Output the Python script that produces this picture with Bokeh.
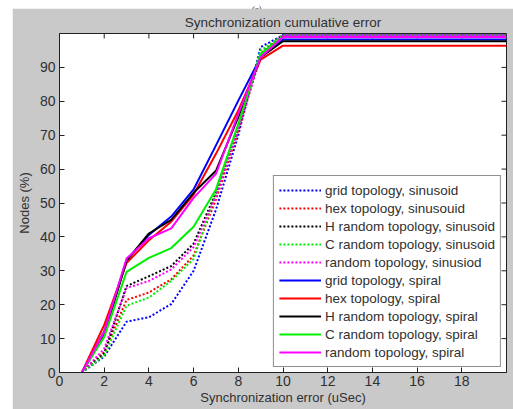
from bokeh.plotting import figure
from bokeh.models import Range1d, FixedTicker, LinearAxis, Legend, LegendItem, Div
from bokeh.layouts import column
from bokeh.embed import file_html
from bokeh.resources import INLINE

# Synchronization error (uSec) sample points
error_us = [1, 2, 3, 4, 5, 6, 7, 8, 9, 10, 20]

# Cumulative share of nodes (%) per topology / clock model
grid_sinusoid = [0, 4.7, 15.0, 16.3, 20.2, 30.0, 48.0, 70.0, 96.0, 99.5, 99.5]
hex_sinusoid = [0, 6.0, 21.4, 23.6, 27.5, 34.5, 51.0, 71.0, 94.0, 99.5, 99.5]
hrand_sinusoid = [0, 5.6, 25.5, 28.4, 31.4, 38.0, 53.0, 72.0, 94.0, 99.5, 99.5]
crand_sinusoid = [0, 5.0, 19.7, 22.1, 27.0, 33.5, 53.0, 73.0, 95.0, 99.5, 99.5]
rand_sinusoid = [0, 7.0, 24.9, 27.0, 30.4, 37.0, 52.0, 72.0, 93.0, 99.5, 99.5]
grid_spiral = [0, 12.0, 33.0, 40.6, 46.0, 54.0, 67.0, 80.2, 93.0, 98.2, 98.2]
hex_spiral = [0, 14.0, 32.3, 39.0, 44.5, 52.5, 64.5, 77.3, 92.3, 96.4, 96.4]
hrand_spiral = [0, 11.0, 33.0, 41.0, 45.0, 53.0, 59.5, 75.3, 93.0, 97.7, 97.7]
crand_spiral = [0, 10.5, 29.7, 33.8, 36.7, 43.0, 54.0, 73.3, 94.0, 99.0, 99.0]
rand_spiral = [0, 12.0, 33.6, 39.6, 42.5, 51.5, 58.6, 76.3, 93.0, 99.0, 99.0]

labels = [
    "grid topology, sinusoid",
    "hex topology, sinusouid",
    "H random topology, sinusoid",
    "C random topology, sinusoid",
    "random topology, sinusiod",
    "grid topology, spiral",
    "hex topology, spiral",
    "H random topology, spiral",
    "C random topology, spiral",
    "random topology, spiral",
]
series = [grid_sinusoid, hex_sinusoid, hrand_sinusoid, crand_sinusoid, rand_sinusoid,
          grid_spiral, hex_spiral, hrand_spiral, crand_spiral, rand_spiral]
colors = ["#0000ff", "#ff0000", "#000000", "#00ee00", "#ff00ff"] * 2
dashes = ["2 2"] * 5 + ["solid"] * 5

x_ticks = [0, 2, 4, 6, 8, 10, 12, 14, 16, 18]
y_ticks = [0, 10, 20, 30, 40, 50, 60, 70, 80, 90]
X_MAX, Y_MAX = 20, 100

FONT = "Liberation Sans"
GRAY = "#c9c9c9"
TXT = "#303030"
EDGE = "#202020"

p = figure(width=501, height=401, output_backend="svg", toolbar_location=None,
           x_range=Range1d(0, X_MAX), y_range=Range1d(0, Y_MAX),
           x_axis_location=None, y_axis_location=None,
           min_border_left=47, min_border_right=7, min_border_top=25, min_border_bottom=37,
           border_fill_color=GRAY, background_fill_color="white")
p.margin = (0, 0, 0, 12)
p.grid.visible = False
p.outline_line_color = EDGE
p.outline_line_width = 1

p.title.text = "Synchronization cumulative error"
p.title.align = "center"
p.title.text_font = FONT
p.title.text_font_size = "13.5px"
p.title.text_font_style = "normal"
p.title.text_color = TXT
p.title.standoff = 8


def make_axis(ticks, label, tick_standoff, label_standoff):
    ax = LinearAxis(ticker=FixedTicker(ticks=ticks))
    ax.major_tick_in = 5
    ax.major_tick_out = 0
    ax.minor_tick_in = 0
    ax.minor_tick_out = 0
    ax.axis_line_color = EDGE
    ax.major_tick_line_color = EDGE
    ax.major_label_text_font = FONT
    ax.major_label_text_font_size = "14px"
    ax.major_label_text_color = TXT
    ax.major_label_standoff = tick_standoff
    ax.axis_label = label
    ax.axis_label_text_font = FONT
    ax.axis_label_text_font_size = "13px"
    ax.axis_label_text_font_style = "normal"
    ax.axis_label_text_color = TXT
    ax.axis_label_standoff = label_standoff
    return ax


p.add_layout(make_axis(x_ticks, "Synchronization error (uSec)", 3, 1), "below")
p.add_layout(make_axis(y_ticks, "Nodes (%)", 4, 5), "left")

# inward tick marks on the top and right edges of the box
p.ray(x=x_ticks, y=[Y_MAX] * len(x_ticks), length=5, length_units="screen",
      angle=-90, angle_units="deg", line_color=EDGE, line_width=1)
p.ray(x=[X_MAX] * len(y_ticks), y=y_ticks, length=5, length_units="screen",
      angle=180, angle_units="deg", line_color=EDGE, line_width=1)

items = []
for name, ys, c, d in zip(labels, series, colors, dashes):
    r = p.line(error_us, ys, line_color=c, line_width=2, line_dash=d)
    items.append(LegendItem(label=name, renderers=[r]))

legend = Legend(items=items, location="bottom_right")
legend.margin = 5
legend.padding = 5
legend.spacing = 0
legend.glyph_width = 42
legend.glyph_height = 18
legend.label_height = 18
legend.label_standoff = 4
legend.label_text_font = FONT
legend.label_text_font_size = "13.5px"
legend.label_text_color = TXT
legend.border_line_color = EDGE
legend.border_line_width = 1
legend.background_fill_color = "white"
legend.background_fill_alpha = 1.0
p.add_layout(legend)

tag = Div(text='<div style="font-family: \'Liberation Serif\'; font-style: italic; '
               'font-size: 8px; line-height: 8px; text-align: center; width: 513px;">(a)</div>',
          width=513, height=8)
tag.margin = (0, 0, 0, 0)

layout = column(tag, p, spacing=0)
open("out.html", "w").write(file_html(layout, INLINE))
